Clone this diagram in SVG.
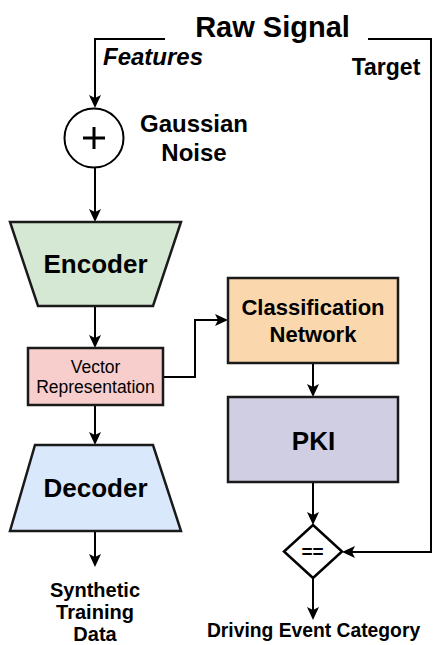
<svg xmlns="http://www.w3.org/2000/svg" width="433" height="645" viewBox="0 0 433 645">
<style>
text{font-family:"Liberation Sans",Arial,sans-serif;fill:#000;text-anchor:middle;font-weight:bold}
.ln{fill:none;stroke:#000;stroke-width:2}
.nd{stroke:#1a1a1a;stroke-width:2.5}
.reg{font-weight:normal}
</style>
<defs>
<marker id="ah" markerUnits="userSpaceOnUse" markerWidth="14" markerHeight="12" refX="10" refY="6" orient="auto">
<path d="M0,0 L13,6 L0,12 L3,6 Z" fill="#000"/>
</marker>
</defs>
<rect width="433" height="645" fill="#fff"/>
<g id="connectors">
<path class="ln" d="M165,39 H95 V105" marker-end="url(#ah)"/>
<path class="ln" d="M368,39 H431 V552 H345" marker-end="url(#ah)"/>
<path class="ln" d="M95,168 V219" marker-end="url(#ah)"/>
<path class="ln" d="M95,306 V345" marker-end="url(#ah)"/>
<path class="ln" d="M163,377 H195 V320 H225" marker-end="url(#ah)"/>
<path class="ln" d="M95,405 V442" marker-end="url(#ah)"/>
<path class="ln" d="M95,531 V564" marker-end="url(#ah)"/>
<path class="ln" d="M313,363 V394" marker-end="url(#ah)"/>
<path class="ln" d="M313,482 V522" marker-end="url(#ah)"/>
<path class="ln" d="M313,578 V617" marker-end="url(#ah)"/>
</g>
<g id="raw-signal"><text x="272.5" y="36.5" font-size="29">Raw Signal</text></g>
<g id="features-label"><text x="103" y="65" font-size="24" font-style="italic" style="text-anchor:start">Features</text></g>
<g id="target-label"><text x="386" y="75" font-size="23">Target</text></g>
<g id="noise-sum">
<circle cx="94" cy="138" r="29.5" fill="#fff" stroke="#000" stroke-width="2"/>
<path d="M83,138 H105 M94,127 V149" stroke="#000" stroke-width="3"/>
</g>
<g id="gaussian-label">
<text x="194" y="131.5" font-size="24">Gaussian</text>
<text x="194" y="160.5" font-size="24">Noise</text>
</g>
<g id="encoder">
<path class="nd" d="M10,222 H181 L153,306 H38 Z" fill="#d5e8d4"/>
<text x="95.5" y="272.5" font-size="26">Encoder</text>
</g>
<g id="vector">
<rect class="nd" x="28" y="348" width="135" height="57" fill="#f8cecc"/>
<text class="reg" x="95.5" y="373" font-size="17.5">Vector</text>
<text class="reg" x="95.5" y="393" font-size="17.5">Representation</text>
</g>
<g id="decoder">
<path class="nd" d="M35,445 H153 L181,531 H10 Z" fill="#dae8fc"/>
<text x="95.5" y="497" font-size="26">Decoder</text>
</g>
<g id="synthetic-label">
<text x="95" y="597" font-size="20">Synthetic</text>
<text x="95" y="618.5" font-size="20">Training</text>
<text x="95" y="641" font-size="20">Data</text>
</g>
<g id="classification">
<rect class="nd" x="228" y="278" width="170" height="85" fill="#fad7ac"/>
<text x="313" y="315" font-size="22">Classification</text>
<text x="313" y="342" font-size="22">Network</text>
</g>
<g id="pki">
<rect class="nd" x="228" y="397" width="170" height="85" fill="#d0cee2"/>
<text x="313.5" y="450" font-size="26">PKI</text>
</g>
<g id="compare">
<path d="M313,525 L342,551.5 L313,578 L284,551.5 Z" fill="#fff" stroke="#000" stroke-width="2.5"/>
<text x="312.5" y="557.5" font-size="19">==</text>
</g>
<g id="output-label"><text x="313.5" y="637" font-size="19.3">Driving Event Category</text></g>
</svg>
